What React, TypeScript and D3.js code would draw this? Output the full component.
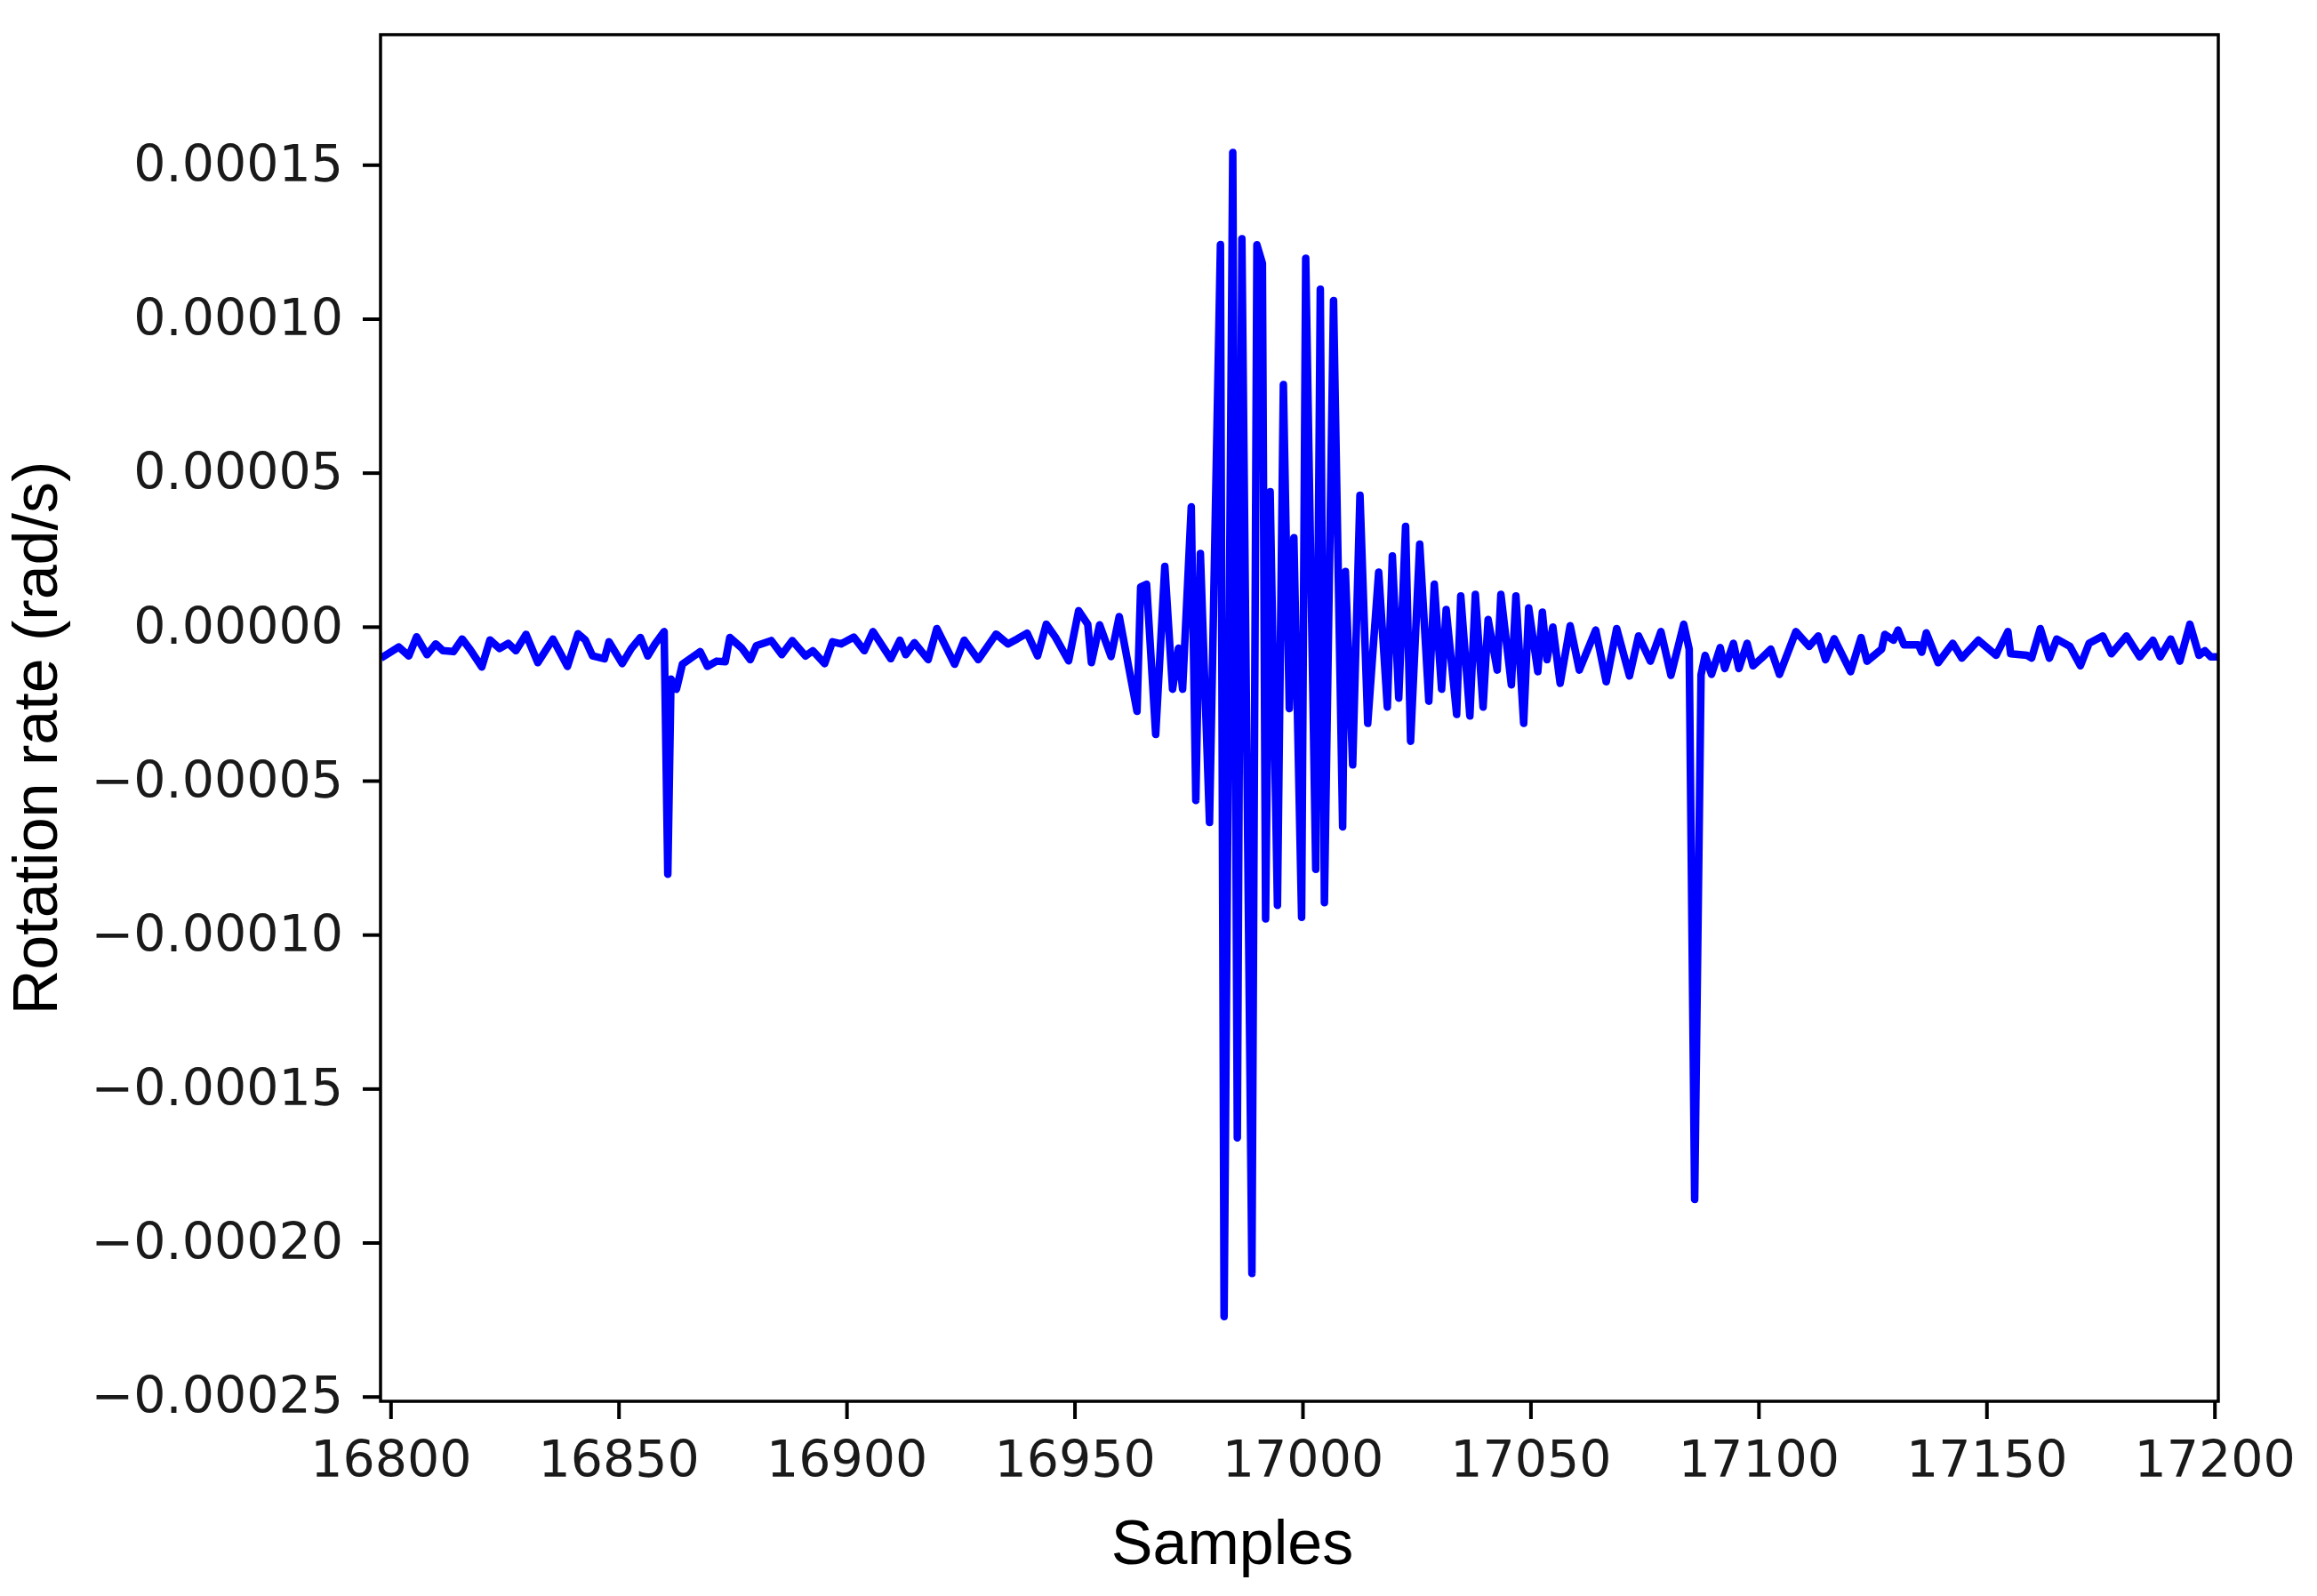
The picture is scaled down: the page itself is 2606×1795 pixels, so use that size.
import * as d3 from "d3";
import React, { useEffect, useRef } from "react";

// sample index of each vertex
const samples = [
  16797.9, 16801.8, 16804.0, 16805.7, 16808.0, 16809.9, 16811.5, 16813.8, 16815.7, 16817.4,
  16820.0, 16821.8, 16823.9, 16825.8, 16827.5, 16829.7, 16832.3, 16835.6, 16838.8, 16841.1,
  16842.7, 16844.3, 16846.9, 16847.9, 16850.8, 16852.8, 16854.8, 16856.4, 16858.0, 16860.0,
  16860.8, 16861.5, 16862.7, 16864.0, 16867.9, 16869.5, 16871.5, 16873.4, 16874.4, 16877.0,
  16878.9, 16880.2, 16883.5, 16885.8, 16888.1, 16891.0, 16892.6, 16895.2, 16896.9, 16898.8,
  16901.6, 16903.9, 16905.8, 16909.7, 16911.7, 16913.0, 16914.9, 16917.9, 16919.8, 16923.7,
  16925.8, 16928.9, 16932.8, 16935.4, 16937.4, 16939.6, 16941.9, 16943.8, 16945.8, 16948.7,
  16950.9, 16952.9, 16953.7, 16955.5, 16958.0, 16959.8, 16963.7, 16964.5, 16965.8, 16967.8,
  16969.8, 16971.5, 16972.8, 16973.7, 16975.6, 16976.6, 16977.6, 16979.6,
  16982.0, 16982.8, 16984.7, 16985.7, 16986.7, 16988.9, 16990.0, 16991.2, 16991.9, 16992.9,
  16994.5, 16995.8, 16997.1, 16998.1, 16999.8, 17000.7, 17002.9, 17003.9, 17004.8, 17006.8,
  17008.8, 17009.4, 17011.0, 17012.6, 17014.3, 17016.7, 17018.6, 17019.7, 17021.1, 17022.6,
  17023.7, 17025.7, 17027.7, 17028.9, 17030.5, 17031.5, 17033.8, 17034.7, 17036.7, 17037.9,
  17039.6, 17040.7, 17042.7, 17043.5, 17045.8, 17046.8, 17048.5, 17049.6,
  17051.6, 17052.6, 17053.6, 17054.9, 17056.5, 17058.7, 17060.7, 17064.3, 17066.6, 17068.9,
  17071.7, 17073.7, 17076.3, 17078.6, 17080.8, 17083.6, 17084.8, 17086.0, 17087.4, 17088.3,
  17089.7, 17091.6, 17092.6, 17094.5, 17095.7, 17097.5, 17098.8, 17100.7, 17102.7, 17104.6,
  17108.2, 17111.1, 17113.1, 17114.7, 17116.6, 17120.2, 17122.5, 17123.8, 17127.0, 17127.7,
  17129.6, 17130.6, 17131.9, 17135.1, 17135.8, 17136.8, 17139.4, 17142.6,
  17144.6, 17148.2, 17152.1, 17154.7, 17155.3, 17158.9, 17159.9, 17161.8, 17163.8, 17165.4,
  17168.3, 17170.6, 17172.5, 17175.5, 17177.4, 17180.7, 17183.6, 17186.5, 17188.1, 17190.4,
  17192.4, 17194.6, 17196.6, 17197.9, 17199.2, 17200.8,
];

// rotation rate at each vertex, in units of 1e-5 rad/s
const ratesE5 = [
  -1.02, -0.66, -0.95, -0.33, -0.91, -0.56, -0.78, -0.81, -0.4, -0.73,
  -1.31, -0.43, -0.71, -0.54, -0.78, -0.25, -1.17, -0.4, -1.29, -0.23,
  -0.43, -0.95, -1.04, -0.49, -1.2, -0.71, -0.35, -0.95, -0.56, -0.16,
  -8.04, -1.7, -2.03, -1.22, -0.81, -1.29, -1.12, -1.14, -0.35, -0.69,
  -1.07, -0.62, -0.45, -0.91, -0.45, -0.95, -0.78, -1.2, -0.49, -0.56,
  -0.34, -0.78, -0.16, -1.04, -0.44, -0.91, -0.52, -1.07, -0.06, -1.22,
  -0.44, -1.07, -0.24, -0.56, -0.4, -0.21, -0.95, 0.08, -0.34, -1.11,
  0.52, 0.08, -1.17, 0.06, -0.97, 0.33, -2.75, 1.29, 1.38, -3.5,
  1.96, -2.03, -0.7, -2.03, 3.89, -5.64, 2.38, -6.36,
  12.41, -22.4, 15.4, -16.6, 12.6, -21.0, 12.4, 11.8, -9.49, 4.38,
  -9.05, 7.86, -2.66, 2.89, -9.44, 11.96, -7.88, 10.96, -8.96, 10.59,
  -6.5, 1.79, -4.49, 4.27, -3.14, 1.77, -2.61, 2.3, -2.32, 3.26,
  -3.72, 2.68, -2.42, 1.38, -2.03, 0.56, -2.85, 1.0, -2.9, 1.05,
  -2.61, 0.23, -1.41, 1.05, -1.89, 1.0, -3.14, 0.61,
  -1.46, 0.47, -1.07, -0.01, -1.84, 0.03, -1.41, -0.11, -1.79, -0.06,
  -1.6, -0.3, -1.12, -0.16, -1.58, 0.08, -0.73, -18.6, -1.56, -0.93,
  -1.55, -0.68, -1.36, -0.54, -1.36, -0.54, -1.27, -1.02, -0.73, -1.55,
  -0.16, -0.64, -0.3, -1.07, -0.39, -1.46, -0.35, -1.12, -0.73, -0.25,
  -0.44, -0.11, -0.59, -0.59, -0.83, -0.2, -1.17, -0.54,
  -1.02, -0.44, -0.93, -0.16, -0.88, -0.93, -1.02, -0.06, -1.02, -0.4,
  -0.64, -1.27, -0.54, -0.3, -0.88, -0.3, -0.98, -0.44, -0.98, -0.4,
  -1.12, 0.08, -0.93, -0.78, -0.98, -0.98,
];

const xTicks = [16800, 16850, 16900, 16950, 17000, 17050, 17100, 17150, 17200];
const yTicks = [-0.00025, -0.0002, -0.00015, -0.0001, -0.00005, 0, 0.00005, 0.0001, 0.00015];

const W = 2606;
const H = 1795;

const App: React.FC = () => {
  const svgRef = useRef<SVGSVGElement | null>(null);

  useEffect(() => {
    if (!svgRef.current) return;
    const svg = d3.select(svgRef.current);
    svg.selectAll("*").remove();

    const plot = { left: 428, right: 2495, top: 39, bottom: 1576 };

    const x = d3
      .scaleLinear()
      .domain([16797.8, 17200.84])
      .range([plot.left, plot.right]);

    const y = d3
      .scaleLinear()
      .domain([-0.00025153, 0.00019224])
      .range([plot.bottom, plot.top]);

    const data = samples.map((s, i) => ({ s, v: ratesE5[i] * 1e-5 }));

    svg
      .append("defs")
      .append("clipPath")
      .attr("id", "plot-clip")
      .append("rect")
      .attr("x", plot.left)
      .attr("y", plot.top)
      .attr("width", plot.right - plot.left)
      .attr("height", plot.bottom - plot.top);

    // === Line ===
    const line = d3
      .line<{ s: number; v: number }>()
      .x((d) => x(d.s))
      .y((d) => y(d.v));

    svg
      .append("path")
      .datum(data)
      .attr("clip-path", "url(#plot-clip)")
      .attr("fill", "none")
      .attr("stroke", "#0000ff")
      .attr("stroke-width", 8.5)
      .attr("stroke-linejoin", "round")
      .attr("d", line);

    // === Axes ===
    const tickFont = "'DejaVu Sans', sans-serif";

    const xAxis = svg
      .append("g")
      .attr("transform", `translate(0,${plot.bottom})`)
      .call(
        d3
          .axisBottom(x)
          .tickValues(xTicks)
          .tickSize(20)
          .tickPadding(25)
          .tickFormat(d3.format("d") as any)
      );
    xAxis.select(".domain").remove();
    xAxis.selectAll("line").attr("stroke", "#000").attr("stroke-width", 4);
    xAxis
      .selectAll("text")
      .attr("fill", "#1a1a1a")
      .style("font-family", tickFont)
      .style("font-size", "57px");

    const yAxis = svg
      .append("g")
      .attr("transform", `translate(${plot.left},0)`)
      .call(
        d3
          .axisLeft(y)
          .tickValues(yTicks)
          .tickSize(20)
          .tickPadding(22)
          .tickFormat(d3.format(".5f") as any)
      );
    yAxis.select(".domain").remove();
    yAxis.selectAll("line").attr("stroke", "#000").attr("stroke-width", 4);
    yAxis
      .selectAll("text")
      .attr("fill", "#1a1a1a")
      .style("font-family", tickFont)
      .style("font-size", "57px");

    // === Frame ===
    svg
      .append("rect")
      .attr("x", plot.left)
      .attr("y", plot.top)
      .attr("width", plot.right - plot.left)
      .attr("height", plot.bottom - plot.top)
      .attr("fill", "none")
      .attr("stroke", "#000")
      .attr("stroke-width", 3.5);

    // === Axis labels ===
    const labelFont = "'Liberation Sans', Arial, sans-serif";

    svg
      .append("text")
      .attr("transform", "translate(64,830) rotate(-90)")
      .attr("text-anchor", "middle")
      .style("font-family", labelFont)
      .style("font-size", "70px")
      .attr("fill", "#000")
      .text("Rotation rate (rad/s)");

    svg
      .append("text")
      .attr("x", 1386)
      .attr("y", 1759)
      .attr("text-anchor", "middle")
      .style("font-family", labelFont)
      .style("font-size", "70px")
      .attr("fill", "#000")
      .text("Samples");
  }, []);

  return (
    <div style={{ position: "absolute", left: 0, top: 0, background: "#fff" }}>
      <svg ref={svgRef} width={W} height={H} style={{ display: "block" }}></svg>
    </div>
  );
};

export default App;
